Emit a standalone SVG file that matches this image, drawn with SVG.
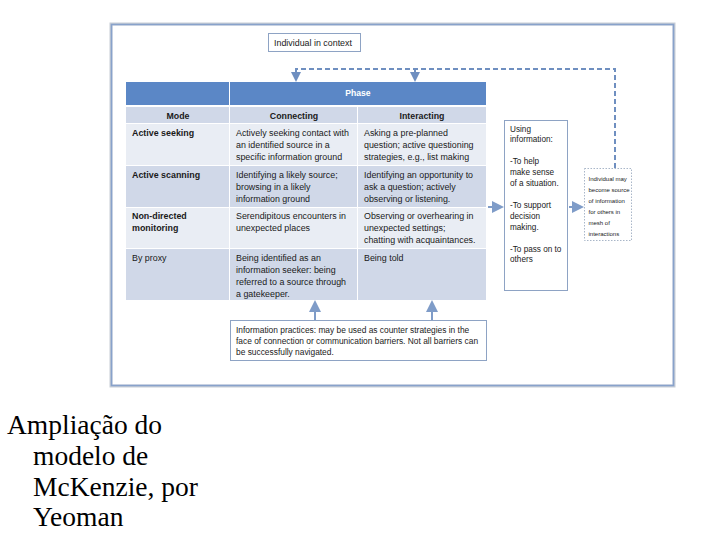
<svg xmlns="http://www.w3.org/2000/svg" width="720" height="540" viewBox="0 0 720 540">
<style>
text{font-family:"Liberation Sans","DejaVu Sans",sans-serif;font-size:8.9px;fill:#1a1a1a}
.b{font-weight:bold}
.hd{font-weight:bold;font-size:8.8px}
.h{font-weight:bold;fill:#fff;font-size:8.6px}
.u{font-size:8.2px}
.iv{font-size:6px}
.p{font-size:8.4px}
.cap{font-family:"Liberation Serif","Times New Roman",serif;font-size:27.5px;fill:#000}
.dark{fill:#d0d8e8}
.light{fill:#e9edf4}
.box{fill:#fff;stroke:#8ea3c4;stroke-width:1}
.dash{fill:none;stroke:#6f8fc0;stroke-width:2;stroke-dasharray:5,3}
.arr{fill:none;stroke:#7f9cc8;stroke-width:2}
</style>
<defs>
<marker id="ah" markerWidth="6" markerHeight="6" refX="4" refY="3" orient="auto" markerUnits="strokeWidth">
<path d="M0,0 L6,3 L0,6 Z" fill="#7f9cc8"/>
</marker>
<marker id="dh" markerWidth="5" markerHeight="5" refX="3" refY="2.5" orient="auto" markerUnits="strokeWidth">
<path d="M0,0 L5,2.5 L0,5 Z" fill="#6f8fc0"/>
</marker>
</defs>
<rect width="720" height="540" fill="#fff"/>
<rect x="111" y="24" width="563" height="362" fill="#fff" stroke="#c8cdd6" stroke-width="3"/>
<rect x="111.5" y="24.5" width="562" height="361" fill="none" stroke="#88a2cb" stroke-width="1.6"/>

<g id="context">
<rect class="box" x="268.5" y="33.5" width="92" height="18"/>
<text x="274" y="46">Individual in context</text>
</g>

<g id="table">
<rect x="126" y="82" width="103" height="23" fill="#5b87c6"/>
<rect x="230" y="82" width="256" height="23" fill="#5b87c6"/>
<text class="h" x="358" y="96" text-anchor="middle">Phase</text>
<rect class="dark" x="126" y="107" width="103" height="16"/>
<rect class="dark" x="230" y="107" width="127" height="16"/>
<rect class="dark" x="358" y="107" width="128" height="16"/>
<text class="hd" x="178" y="118.5" text-anchor="middle">Mode</text>
<text class="hd" x="294" y="118.5" text-anchor="middle">Connecting</text>
<text class="hd" x="422" y="118.5" text-anchor="middle">Interacting</text>

<rect class="light" x="126" y="124" width="103" height="41"/>
<rect class="light" x="230" y="124" width="127" height="41"/>
<rect class="light" x="358" y="124" width="128" height="41"/>
<text class="b" x="132" y="136">Active seeking</text>
<text x="236" y="136">Actively seeking contact with</text>
<text x="236" y="148">an identified source in a</text>
<text x="236" y="160">specific information ground</text>
<text x="364" y="136">Asking a pre-planned</text>
<text x="364" y="148">question; active questioning</text>
<text x="364" y="160">strategies, e.g., list making</text>

<rect class="dark" x="126" y="166" width="103" height="41"/>
<rect class="dark" x="230" y="166" width="127" height="41"/>
<rect class="dark" x="358" y="166" width="128" height="41"/>
<text class="b" x="132" y="178">Active scanning</text>
<text x="236" y="178">Identifying a likely source;</text>
<text x="236" y="190">browsing in a likely</text>
<text x="236" y="202">information ground</text>
<text x="364" y="178">Identifying an opportunity to</text>
<text x="364" y="190">ask a question; actively</text>
<text x="364" y="202">observing or listening.</text>

<rect class="light" x="126" y="208" width="103" height="40"/>
<rect class="light" x="230" y="208" width="127" height="40"/>
<rect class="light" x="358" y="208" width="128" height="40"/>
<text class="b" x="132" y="219">Non-directed</text>
<text class="b" x="132" y="231">monitoring</text>
<text x="236" y="219">Serendipitous encounters in</text>
<text x="236" y="231">unexpected places</text>
<text x="364" y="219">Observing or overhearing in</text>
<text x="364" y="231">unexpected settings;</text>
<text x="364" y="243">chatting with acquaintances.</text>

<rect class="dark" x="126" y="249" width="103" height="51"/>
<rect class="dark" x="230" y="249" width="127" height="51"/>
<rect class="dark" x="358" y="249" width="128" height="51"/>
<text x="132" y="261">By proxy</text>
<text x="236" y="261">Being identified as an</text>
<text x="236" y="273">information seeker: being</text>
<text x="236" y="285">referred to a source through</text>
<text x="236" y="297">a gatekeeper.</text>
<text x="364" y="261">Being told</text>
</g>

<g id="using">
<rect class="box" x="504.5" y="120.5" width="63" height="170"/>
<text class="u" x="510" y="132">Using</text>
<text class="u" x="510" y="142">information:</text>
<text class="u" x="510" y="164">-To help</text>
<text class="u" x="510" y="175">make sense</text>
<text class="u" x="510" y="186">of a situation.</text>
<text class="u" x="510" y="208">-To support</text>
<text class="u" x="510" y="219">decision</text>
<text class="u" x="510" y="230">making.</text>
<text class="u" x="510" y="252">-To pass on to</text>
<text class="u" x="510" y="262">others</text>
</g>

<g id="individual">
<rect x="584.5" y="168.5" width="47" height="72" fill="#fff" stroke="#a9b6c8" stroke-width="1" stroke-dasharray="1.5,1.5"/>
<text class="iv" x="588.5" y="181">Individual may</text>
<text class="iv" x="588.5" y="192">become source</text>
<text class="iv" x="588.5" y="203">of information</text>
<text class="iv" x="588.5" y="214">for others in</text>
<text class="iv" x="588.5" y="225">mesh of</text>
<text class="iv" x="588.5" y="236">interactions</text>
</g>

<g id="practices">
<rect class="box" x="230.5" y="320.5" width="256" height="40"/>
<text class="p" x="236" y="333">Information practices: may be used as counter strategies in the</text>
<text class="p" x="236" y="344">face of  connection or communication barriers. Not all barriers can</text>
<text class="p" x="236" y="355">be successfully navigated.</text>
</g>

<g id="connectors">
<path class="dash" d="M615,168 V69 H296 V78" marker-end="url(#dh)"/>
<path class="dash" d="M415,69 V78" marker-end="url(#dh)"/>
<path class="arr" d="M488,207 H500" marker-end="url(#ah)"/>
<path class="arr" d="M569,207 H580" marker-end="url(#ah)"/>
<path class="arr" d="M315,320 V304" marker-end="url(#ah)"/>
<path class="arr" d="M432,320 V304" marker-end="url(#ah)"/>
</g>

<g id="caption">
<text class="cap" x="7" y="434">Ampliação do</text>
<text class="cap" x="33" y="465">modelo de</text>
<text class="cap" x="33" y="496">McKenzie, por</text>
<text class="cap" x="33" y="526">Yeoman</text>
</g>
</svg>
